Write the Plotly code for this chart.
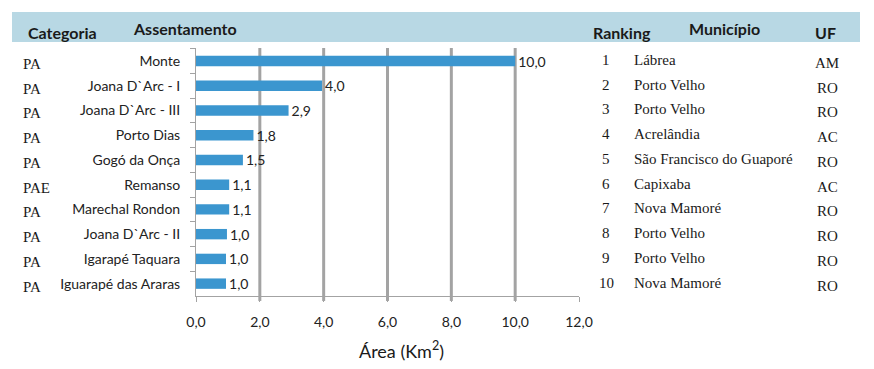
import plotly.graph_objects as go

categorias = ["PA", "PA", "PA", "PA", "PA", "PAE", "PA", "PA", "PA", "PA"]
assentamentos = ["Monte", "Joana D`Arc - I", "Joana D`Arc - III", "Porto Dias", "Gogó da Onça",
                 "Remanso", "Marechal Rondon", "Joana D`Arc - II", "Igarapé Taquara",
                 "Iguarapé das Araras"]
areas = [10.0, 3.95, 2.9, 1.8, 1.47, 1.04, 1.04, 0.97, 0.94, 0.94]
rotulos = ["10,0", "4,0", "2,9", "1,8", "1,5", "1,1", "1,1", "1,0", "1,0", "1,0"]
ranking = ["1", "2", "3", "4", "5", "6", "7", "8", "9", "10"]
municipios = ["Lábrea", "Porto Velho", "Porto Velho", "Acrelândia", "São Francisco do Guaporé",
              "Capixaba", "Nova Mamoré", "Porto Velho", "Porto Velho", "Nova Mamoré"]
ufs = ["AM", "RO", "RO", "AC", "RO", "AC", "RO", "RO", "RO", "RO"]
x_ticks = [0, 2, 4, 6, 8, 10, 12]
x_ticklabels = ["0,0", "2,0", "4,0", "6,0", "8,0", "10,0", "12,0"]
headers = ["Categoria", "Assentamento", "Ranking", "Município", "UF"]

SANS = "Lato, 'Open Sans', sans-serif"
SERIF = "'Liberation Serif', 'DejaVu Serif', serif"
W, H = 874, 369
OFF = 8  # page body margin
FW, FH = W - 2 * OFF, H - 2 * OFF
# plot area in page pixels
L, R, T, B = 196, 579, 48, 296


def px(x):
    return (x - L) / (R - L)


def py(y):
    return (B - y) / (B - T)


fig = go.Figure()
fig.add_trace(go.Bar(
    x=areas, y=assentamentos, orientation="h",
    marker=dict(color="#3b96cf", line=dict(width=0)),
    text=rotulos, textposition="outside", cliponaxis=False, constraintext="none",
    textfont=dict(family=SANS, size=14, color="#222222"),
    hoverinfo="skip",
))

shapes = []
shapes.append(dict(type="rect", xref="paper", yref="paper",
                   x0=px(12), x1=px(860), y0=py(42), y1=py(12),
                   fillcolor="#b8d8e4", line=dict(width=0), layer="below"))
for v in x_ticks[1:-1]:
    shapes.append(dict(type="line", xref="x", yref="paper", x0=v, x1=v, y0=-0.02, y1=1,
                       line=dict(color="#a3a3a3", width=3), layer="below"))

annotations = []
header_pos = [(26, 32), (131, 28), (591, 32), (687, 28), (813, 33)]
for txt, (hx, hy) in zip(headers, header_pos):
    annotations.append(dict(text=f"<b>{txt}</b>", xref="paper", yref="paper",
                            x=px(hx), y=py(hy), xanchor="left", yanchor="middle",
                            showarrow=False, font=dict(family=SANS, size=16, color="#1a1a1a")))

for cat, name, rk, mun, uf in zip(categorias, assentamentos, ranking, municipios, ufs):
    annotations.append(dict(text=cat, xref="paper", yref="y", x=px(21), y=name,
                            xanchor="left", yanchor="middle", yshift=-3, showarrow=False,
                            font=dict(family=SERIF, size=15, color="#1a1a1a")))
    annotations.append(dict(text=rk, xref="paper", yref="y", x=px(606), y=name,
                            xanchor="center", yanchor="middle", yshift=1, showarrow=False,
                            font=dict(family=SERIF, size=15, color="#1a1a1a")))
    annotations.append(dict(text=mun, xref="paper", yref="y", x=px(632), y=name,
                            xanchor="left", yanchor="middle", yshift=1, showarrow=False,
                            font=dict(family=SERIF, size=15, color="#1a1a1a")))
    annotations.append(dict(text=uf, xref="paper", yref="y", x=px(827), y=name,
                            xanchor="center", yanchor="middle", yshift=-2, showarrow=False,
                            font=dict(family=SERIF, size=15, color="#1a1a1a")))

annotations.append(dict(text="Área (Km<sup>2</sup>)", xref="paper", yref="paper",
                        x=px(401), y=py(350), xanchor="center", yanchor="middle",
                        showarrow=False, font=dict(family=SANS, size=18, color="#1a1a1a")))

fig.update_layout(
    width=FW, height=FH,
    margin=dict(l=L - OFF, r=FW - (R - OFF), t=T - OFF, b=FH - (B - OFF)),
    paper_bgcolor="white", plot_bgcolor="white",
    showlegend=False, bargap=0.58,
    shapes=shapes, annotations=annotations,
    font=dict(family=SANS, size=14, color="#222222"),
    xaxis=dict(range=[0, 12], tickmode="array", tickvals=x_ticks, ticktext=x_ticklabels,
               showgrid=True, gridcolor="#a3a3a3", gridwidth=1, zeroline=False,
               showline=True, linecolor="#a3a3a3", linewidth=1,
               ticks="outside", ticklen=5, tickcolor="#a3a3a3", ticklabelstandoff=8,
               tickfont=dict(family=SANS, size=14, color="#222222"), fixedrange=True),
    yaxis=dict(autorange="reversed", type="category", showgrid=False, zeroline=False,
               showline=True, linecolor="#a3a3a3", linewidth=1,
               ticks="outside", ticklen=5, tickcolor="#a3a3a3", tickson="boundaries",
               ticklabelstandoff=12,
               tickfont=dict(family=SANS, size=14, color="#222222"), fixedrange=True),
)

fig.write_html("out.html")
